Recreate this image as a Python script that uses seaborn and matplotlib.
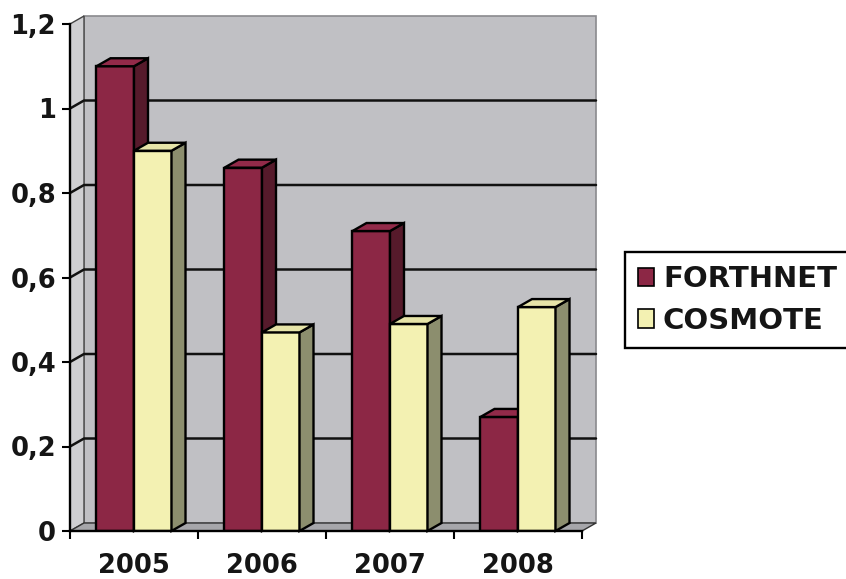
import numpy as np
import pandas as pd
import matplotlib
matplotlib.use('Agg')
import matplotlib.pyplot as plt
from matplotlib.patches import Polygon, Patch
import seaborn as sns

years = ['2005', '2006', '2007', '2008']
companies = ['FORTHNET', 'COSMOTE']
forthnet = [1.10, 0.86, 0.71, 0.27]
cosmote = [0.90, 0.47, 0.49, 0.53]
yticks = [0, 0.2, 0.4, 0.6, 0.8, 1.0, 1.2]
ytick_labels = ['0', '0,2', '0,4', '0,6', '0,8', '1', '1,2']

df = pd.DataFrame({
    'year': years * 2,
    'company': [companies[0]] * 4 + [companies[1]] * 4,
    'value': forthnet + cosmote,
})

front = {'FORTHNET': '#8c2745', 'COSMOTE': '#f3f1b2'}
top = {'FORTHNET': '#922a49', 'COSMOTE': '#e6e4a8'}
side = {'FORTHNET': '#561a2b', 'COSMOTE': '#8c8e6e'}

sns.set_style('white')
plt.rcParams['font.family'] = ['DejaVu Sans']

fig = plt.figure(figsize=(8.46, 5.79), dpi=100)
fig.patch.set_facecolor('white')
ax = fig.add_axes([70 / 846, 48 / 579, 512 / 846, 507 / 579])

sns.barplot(data=df, x='year', y='value', hue='company', order=years,
            hue_order=companies, palette=[front[c] for c in companies],
            saturation=1, width=0.586, edgecolor='black', linewidth=1.7,
            legend=False, ax=ax)

ax.set_xlim(-0.5, 3.5)
ax.set_ylim(0, 1.2)
ax.set_facecolor('none')

# depth of the pseudo 3D effect, in pixels turned to data units
dpx, dpy = 14, 8
bb = ax.bbox
dx = dpx * 4 / bb.width
dy = dpy * 1.2 / bb.height

# walls and floor
x0, x1 = -0.5, 3.5
ax.add_patch(Polygon([(x0 + dx, dy), (x1 + dx, dy), (x1 + dx, 1.2 + dy), (x0 + dx, 1.2 + dy)],
                     closed=True, facecolor='#c0c0c4', edgecolor='#8a8a8e', lw=1.2,
                     zorder=0.5, clip_on=False))
ax.add_patch(Polygon([(x0, 0), (x0 + dx, dy), (x0 + dx, 1.2 + dy), (x0, 1.2)],
                     closed=True, facecolor='#cfcfd2', edgecolor='#444444', lw=1.0,
                     zorder=0.6, clip_on=False))
ax.add_patch(Polygon([(x0, 0), (x1, 0), (x1 + dx, dy), (x0 + dx, dy)],
                     closed=True, facecolor='#a6a6aa', edgecolor='#333333', lw=1.0,
                     zorder=0.7, clip_on=False))
for y in yticks[1:-1]:
    ax.plot([x0, x0 + dx, x1 + dx], [y, y + dy, y + dy], color='#111111', lw=1.8,
            zorder=0.8, clip_on=False)

# 3D faces of the bars
bars = []
for comp, cont in zip(companies, ax.containers):
    for p in cont:
        bars.append((p.get_x(), comp, p))
bars.sort(key=lambda t: t[0])

z = 2
for bx, comp, p in bars:
    bw, bh = p.get_width(), p.get_height()
    p.set_zorder(z)
    ax.add_patch(Polygon([(bx + bw, 0), (bx + bw + dx, dy), (bx + bw + dx, bh + dy), (bx + bw, bh)],
                         closed=True, facecolor=side[comp], edgecolor='black', lw=1.7,
                         zorder=z + 0.1, clip_on=False))
    ax.add_patch(Polygon([(bx, bh), (bx + bw, bh), (bx + bw + dx, bh + dy), (bx + dx, bh + dy)],
                         closed=True, facecolor=top[comp], edgecolor='black', lw=1.7,
                         zorder=z + 0.2, clip_on=False))
    z += 1

for s in ['top', 'right']:
    ax.spines[s].set_visible(False)
for s in ['left', 'bottom']:
    ax.spines[s].set_color('black')
    ax.spines[s].set_linewidth(1.7)
    ax.spines[s].set_zorder(50)

ax.set_yticks(yticks)
ax.set_yticklabels(ytick_labels)
ax.set_xticks(range(len(years)))
ax.set_xticklabels(years)
ax.set_xticks([-0.5, 0.5, 1.5, 2.5, 3.5], minor=True)
ax.tick_params(axis='y', length=6, width=1.5, color='black', pad=4,
               labelsize=18.5, labelcolor='#151515', left=True)
ax.tick_params(axis='x', which='major', length=0, pad=16, labelsize=18.5, labelcolor='#151515')
ax.tick_params(axis='x', which='minor', length=6, width=1.5, color='black', bottom=True)
for lab in ax.get_xticklabels() + ax.get_yticklabels():
    lab.set_fontweight('bold')
ax.set_xlabel('')
ax.set_ylabel('')
ax.grid(False)

handles = [Patch(facecolor=front[c], edgecolor='black', lw=1.2, label=c) for c in companies]
leg = fig.legend(handles=handles, loc='center left', bbox_to_anchor=(625 / 846, 1 - 300 / 579),
                 frameon=True, fancybox=False, framealpha=1, edgecolor='black',
                 prop={'size': 21, 'weight': 'bold'}, handlelength=0.55, handleheight=0.6,
                 handletextpad=0.3, labelspacing=0.45, borderpad=0.45, borderaxespad=0)
leg.get_frame().set_linewidth(1.7)
for t in leg.get_texts():
    t.set_color('#151515')

fig.savefig('out.png', dpi=100)
